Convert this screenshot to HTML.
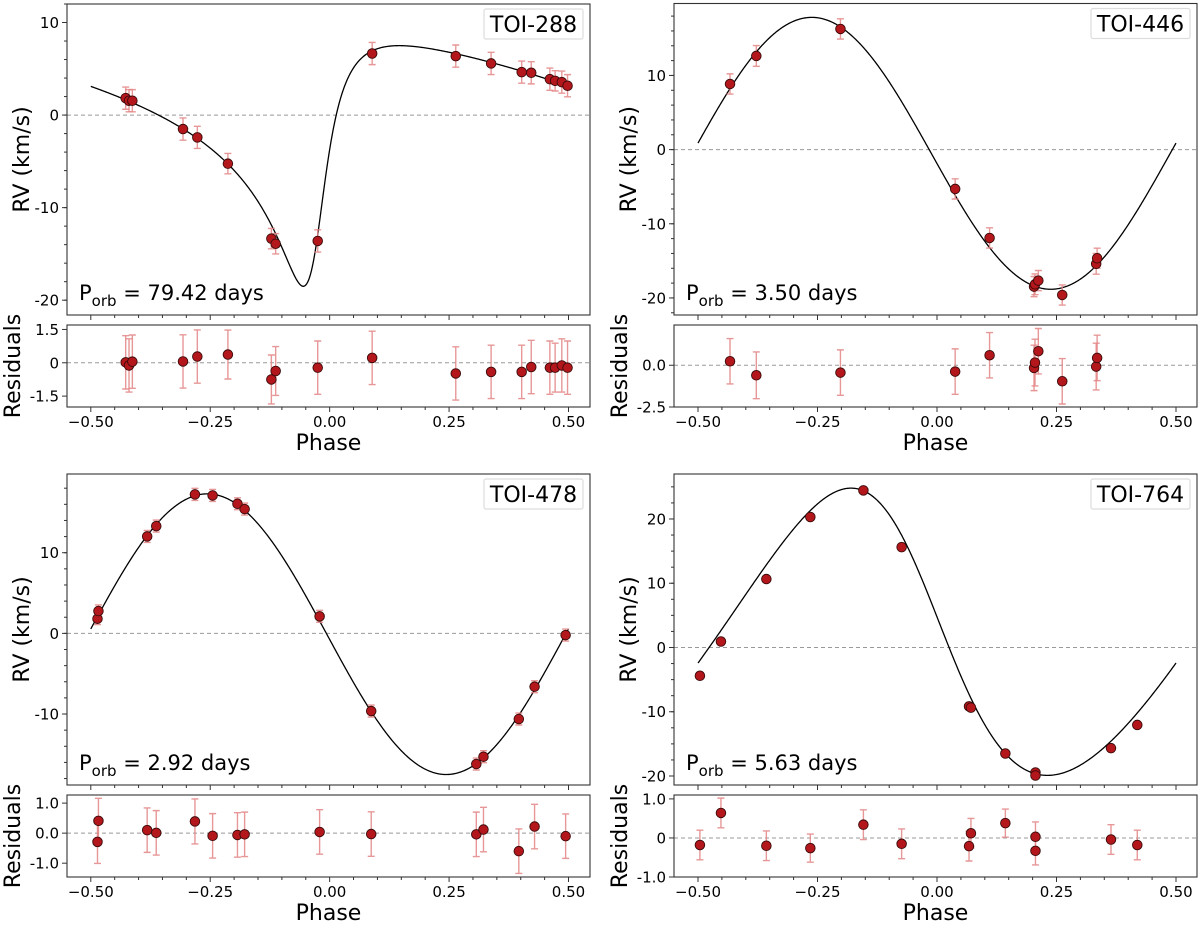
<!DOCTYPE html>
<html><head><meta charset="utf-8">
<style>
html,body{margin:0;padding:0;background:#fff;}
svg{display:block;font-family:"DejaVu Sans","Liberation Sans",sans-serif;}
</style></head>
<body>
<svg id="fig" width="1200" height="925" viewBox="0 0 1200 925" xmlns="http://www.w3.org/2000/svg"></svg>
<script>
// ---------- DATA ----------
const toi288_phase=[-0.427,-0.420,-0.413,-0.307,-0.277,-0.213,-0.122,-0.113,-0.025,0.089,0.264,0.338,0.402,0.422,0.461,0.472,0.486,0.498];
const toi288_rv=[1.83,1.55,1.55,-1.51,-2.41,-5.25,-13.35,-13.9,-13.6,6.65,6.37,5.58,4.64,4.57,3.88,3.7,3.56,3.17];
const toi288_res=[0.02,-0.12,0.05,0.06,0.28,0.37,-0.75,-0.37,-0.22,0.22,-0.48,-0.41,-0.41,-0.19,-0.22,-0.22,-0.12,-0.22];
const toi288_err=[1.2,1.2,1.2,1.2,1.2,1.1,1.1,1.1,1.2,1.2,1.2,1.2,1.2,1.2,1.2,1.1,1.2,1.2];
const toi288_orbit=[-5.5,13.0,0.62,-2.35,-0.03]; // gamma, K, e, omega, t_peri

const toi446_phase=[-0.433,-0.378,-0.202,0.038,0.110,0.203,0.205,0.212,0.262,0.333,0.335];
const toi446_rv=[8.85,12.63,16.27,-5.30,-11.91,-18.47,-18.16,-17.66,-19.6,-15.4,-14.65];
const toi446_res=[0.24,-0.6,-0.44,-0.38,0.6,-0.16,0.16,0.84,-0.96,-0.08,0.44];
const toi446_err=[1.36,1.4,1.36,1.36,1.36,1.36,1.4,1.36,1.36,1.4,1.36];
const toi446_orbit=[-0.5,18.33,0.0,0.0,-0.262];

const toi478_phase=[-0.486,-0.484,-0.382,-0.363,-0.282,-0.245,-0.193,-0.178,-0.021,0.087,0.307,0.322,0.396,0.429,0.494];
const toi478_rv=[1.82,2.77,12.02,13.3,17.23,17.1,16.07,15.41,2.11,-9.63,-16.2,-15.29,-10.62,-6.61,-0.21];
const toi478_res=[-0.29,0.41,0.1,0.01,0.39,-0.09,-0.06,-0.04,0.04,-0.03,-0.04,0.12,-0.6,0.22,-0.1];
const toi478_err=[0.72,0.75,0.74,0.74,0.75,0.74,0.74,0.74,0.74,0.74,0.74,0.74,0.74,0.74,0.74];
const toi478_orbit=[-0.1,17.4,0.0,0.0,-0.256];

const toi764_phase=[-0.496,-0.452,-0.357,-0.265,-0.154,-0.074,0.067,0.071,0.143,0.206,0.206,0.364,0.419];
const toi764_rv=[-4.40,0.93,10.65,20.31,24.45,15.62,-9.16,-9.36,-16.5,-19.45,-19.92,-15.67,-12.05];
const toi764_res=[-0.18,0.64,-0.2,-0.26,0.34,-0.15,-0.21,0.12,0.38,0.03,-0.33,-0.04,-0.18];
const toi764_err=[0.38,0.38,0.38,0.36,0.38,0.38,0.38,0.38,0.36,0.38,0.36,0.38,0.38];
const toi764_orbit=[2.45,22.35,0.15,1.21,-0.03];

const xTicks=[-0.5,-0.25,0,0.25,0.5];
const xTickLabels=["\u22120.50","\u22120.25","0.00","0.25","0.50"];
const toi288_yTicks=[-20,-10,0,10], toi288_yLabels=["-20","-10","0","10"];
const toi288_rTicks=[-1.5,0,1.5], toi288_rLabels=["-1.5","0","1.5"];
const toi446_yTicks=[-20,-10,0,10], toi446_yLabels=["-20","-10","0","10"];
const toi446_rTicks=[-2.5,0], toi446_rLabels=["-2.5","0.0"];
const toi478_yTicks=[-10,0,10], toi478_yLabels=["-10","0","10"];
const toi478_rTicks=[-1,0,1], toi478_rLabels=["-1.0","0.0","1.0"];
const toi764_yTicks=[-20,-10,0,10,20], toi764_yLabels=["-20","-10","0","10","20"];
const toi764_rTicks=[-1,0,1], toi764_rLabels=["-1.0","0","1.0"];

// ---------- DRAW ----------
const NS="http://www.w3.org/2000/svg";
const svg=document.getElementById('fig');
function mk(tag,attrs,parent){const e=document.createElementNS(NS,tag);for(const k in attrs)e.setAttribute(k,attrs[k]);(parent||svg).appendChild(e);return e;}

function kepler(ph,orb){
  const [g,K,e,w,tp]=orb;
  let M=2*Math.PI*(ph-tp);
  let E=M;
  for(let i=0;i<50;i++){E=E-(E-e*Math.sin(E)-M)/(1-e*Math.cos(E));}
  const nu=2*Math.atan2(Math.sqrt(1+e)*Math.sin(E/2),Math.sqrt(1-e)*Math.cos(E/2));
  return g+K*Math.cos(nu+w);
}

function panel(cfg){
  const g=mk('g',{});
  
  
  const X=p=>cfg.xa+(p+0.5)*(cfg.xb-cfg.xa);
  const Ym=v=>cfg.mTop+(cfg.mMax-v)/(cfg.mMax-cfg.mMin)*(cfg.mBot-cfg.mTop);
  const Yr=v=>cfg.rTop+(cfg.rMax-v)/(cfg.rMax-cfg.rMin)*(cfg.rBot-cfg.rTop);
  const W=cfg.x1-cfg.x0;
  const z1=mk('line',{x1:cfg.x0,x2:cfg.x1,y1:Ym(0),y2:Ym(0),stroke:'#999',"stroke-width":1,"stroke-dasharray":"4,3"},g);
  
  
  const z2=mk('line',{x1:cfg.x0,x2:cfg.x1,y1:Yr(0),y2:Yr(0),stroke:'#999',"stroke-width":1,"stroke-dasharray":"4,3"},g);
  
  
  let d='';
  for(let i=0;i<=600;i++){const p=-0.5+i/600;d+=(i?'L':'M')+X(p).toFixed(2)+','+Ym(kepler(p,cfg.orbit)).toFixed(2);}
  const c=mk('path',{d:d,fill:'none',stroke:'#000',"stroke-width":1.3},g);
  
  
  function pts(vals,errs,Y,label){
    for(let i=0;i<cfg.phase.length;i++){
      const x=X(cfg.phase[i]),yt=Y(vals[i]+errs[i]),yb=Y(vals[i]-errs[i]);
      const eb=mk('path',{d:`M${x},${yt}L${x},${yb}M${x-3.5},${yt}L${x+3.5},${yt}M${x-3.5},${yb}L${x+3.5},${yb}`,stroke:'#e38585',"stroke-width":1.4,fill:'none',opacity:0.85},g);
      
      
    }
    for(let i=0;i<cfg.phase.length;i++){
      const m=mk('circle',{cx:X(cfg.phase[i]),cy:Y(vals[i]),r:4.8,fill:'#b3171c',stroke:'#3a0a0a',"stroke-width":0.9},g);
      
      
    }
  }
  pts(cfg.rv,cfg.err,Ym,'rv');
  pts(cfg.res,cfg.err,Yr,'residual');
  const f1=mk('rect',{x:cfg.x0,y:cfg.mTop,width:W,height:cfg.mBot-cfg.mTop,fill:'none',stroke:'#333',"stroke-width":1.1},g);
  
  
  const f2=mk('rect',{x:cfg.x0,y:cfg.rTop,width:W,height:cfg.rBot-cfg.rTop,fill:'none',stroke:'#333',"stroke-width":1.1},g);
  
  
  for(let k=-10;k<=10;k++){
    const p=k*0.05,x=X(p),major=(k%5===0),L=major?5:3;
    mk('line',{x1:x,x2:x,y1:cfg.mBot,y2:cfg.mBot+L,stroke:'#333',"stroke-width":1},g);
    mk('line',{x1:x,x2:x,y1:cfg.rBot,y2:cfg.rBot+L,stroke:'#333',"stroke-width":1},g);
  }
  xTicks.forEach((p,i)=>{
    const t=mk('text',{x:X(p),y:cfg.rBot+20,"font-size":15,"text-anchor":"middle",fill:'#000'},g);
    t.textContent=xTickLabels[i];
    
    
  });
  const xl=mk('text',{x:(cfg.x0+cfg.x1)/2,y:cfg.rBot+43,"font-size":22,"text-anchor":"middle",fill:'#000'},g);
  xl.textContent='Phase';
  
  
  for(let v=Math.ceil(cfg.mMin/cfg.mMinor)*cfg.mMinor;v<=cfg.mMax;v+=cfg.mMinor){
    mk('line',{x1:cfg.x0-3,x2:cfg.x0,y1:Ym(v),y2:Ym(v),stroke:'#333',"stroke-width":1},g);
  }
  cfg.yTicks.forEach((v,i)=>{
    mk('line',{x1:cfg.x0-5,x2:cfg.x0,y1:Ym(v),y2:Ym(v),stroke:'#333',"stroke-width":1},g);
    const t=mk('text',{x:cfg.x0-8,y:Ym(v)+5.5,"font-size":15,"text-anchor":"end",fill:'#000'},g);
    t.textContent=cfg.yLabels[i];
    
    
  });
  cfg.rTicks.forEach((v,i)=>{
    mk('line',{x1:cfg.x0-5,x2:cfg.x0,y1:Yr(v),y2:Yr(v),stroke:'#333',"stroke-width":1},g);
    const t=mk('text',{x:cfg.x0-8,y:Yr(v)+5.5,"font-size":15,"text-anchor":"end",fill:'#000'},g);
    t.textContent=cfg.rLabels[i];
    
    
  });
  const yl=mk('text',{x:0,y:0,"font-size":22,"text-anchor":"middle",fill:'#000',transform:`translate(${cfg.x0-38},${(cfg.mTop+cfg.mBot)/2}) rotate(-90)`},g);
  yl.textContent='RV (km/s)';
  
  
  const rl=mk('text',{x:0,y:0,"font-size":22,"text-anchor":"middle",fill:'#000',transform:`translate(${cfg.x0-47},${(cfg.rTop+cfg.rBot)/2}) rotate(-90)`},g);
  rl.textContent='Residuals';
  
  
  const lb=mk('rect',{x:cfg.x1-106,y:cfg.mTop+5,width:99,height:30,fill:'#fff',stroke:'#ddd',"stroke-width":1.2,rx:2},g);
  
  
  const lt=mk('text',{x:cfg.x1-56.5,y:cfg.mTop+28,"font-size":22,"text-anchor":"middle",fill:'#000'},g);
  lt.textContent=cfg.title;
  
  
  const pt=mk('text',{x:cfg.x0+12,y:cfg.mBot-15,"font-size":21,fill:'#000'},g);
  
  
  const s1=mk('tspan',{},pt);s1.textContent='P';
  const s2=mk('tspan',{dy:6,"font-size":15},pt);s2.textContent='orb';
  const s3=mk('tspan',{dy:-6},pt);s3.textContent=' = '+cfg.period;
}

panel({name:'toi-288',title:'TOI-288',period:'79.42 days',x0:67,x1:590,xa:90.8,xb:568.5,mTop:4,mBot:315,mMax:12.0,mMin:-21.6,mMinor:2,rTop:325,rBot:407,rMax:1.70,rMin:-1.99,
  phase:toi288_phase,rv:toi288_rv,res:toi288_res,err:toi288_err,orbit:toi288_orbit,yTicks:toi288_yTicks,yLabels:toi288_yLabels,rTicks:toi288_rTicks,rLabels:toi288_rLabels});
panel({name:'toi-446',title:'TOI-446',period:'3.50 days',x0:674,x1:1197,xa:698,xb:1176,mTop:3.5,mBot:315,mMax:19.7,mMin:-22.3,mMinor:2,rTop:325,rBot:407,rMax:2.41,rMin:-2.5,
  phase:toi446_phase,rv:toi446_rv,res:toi446_res,err:toi446_err,orbit:toi446_orbit,yTicks:toi446_yTicks,yLabels:toi446_yLabels,rTicks:toi446_rTicks,rLabels:toi446_rLabels});
panel({name:'toi-478',title:'TOI-478',period:'2.92 days',x0:67,x1:590,xa:90.8,xb:568.5,mTop:474,mBot:785,mMax:19.76,mMin:-18.8,mMinor:2,rTop:795,rBot:877,rMax:1.27,rMin:-1.46,
  phase:toi478_phase,rv:toi478_rv,res:toi478_res,err:toi478_err,orbit:toi478_orbit,yTicks:toi478_yTicks,yLabels:toi478_yLabels,rTicks:toi478_rTicks,rLabels:toi478_rLabels});
panel({name:'toi-764',title:'TOI-764',period:'5.63 days',x0:674,x1:1197,xa:698,xb:1176,mTop:474,mBot:785,mMax:27.0,mMin:-21.4,mMinor:2.5,rTop:795,rBot:877,rMax:1.10,rMin:-1.0,
  phase:toi764_phase,rv:toi764_rv,res:toi764_res,err:toi764_err,orbit:toi764_orbit,yTicks:toi764_yTicks,yLabels:toi764_yLabels,rTicks:toi764_rTicks,rLabels:toi764_rLabels});
</script>
</body></html>
